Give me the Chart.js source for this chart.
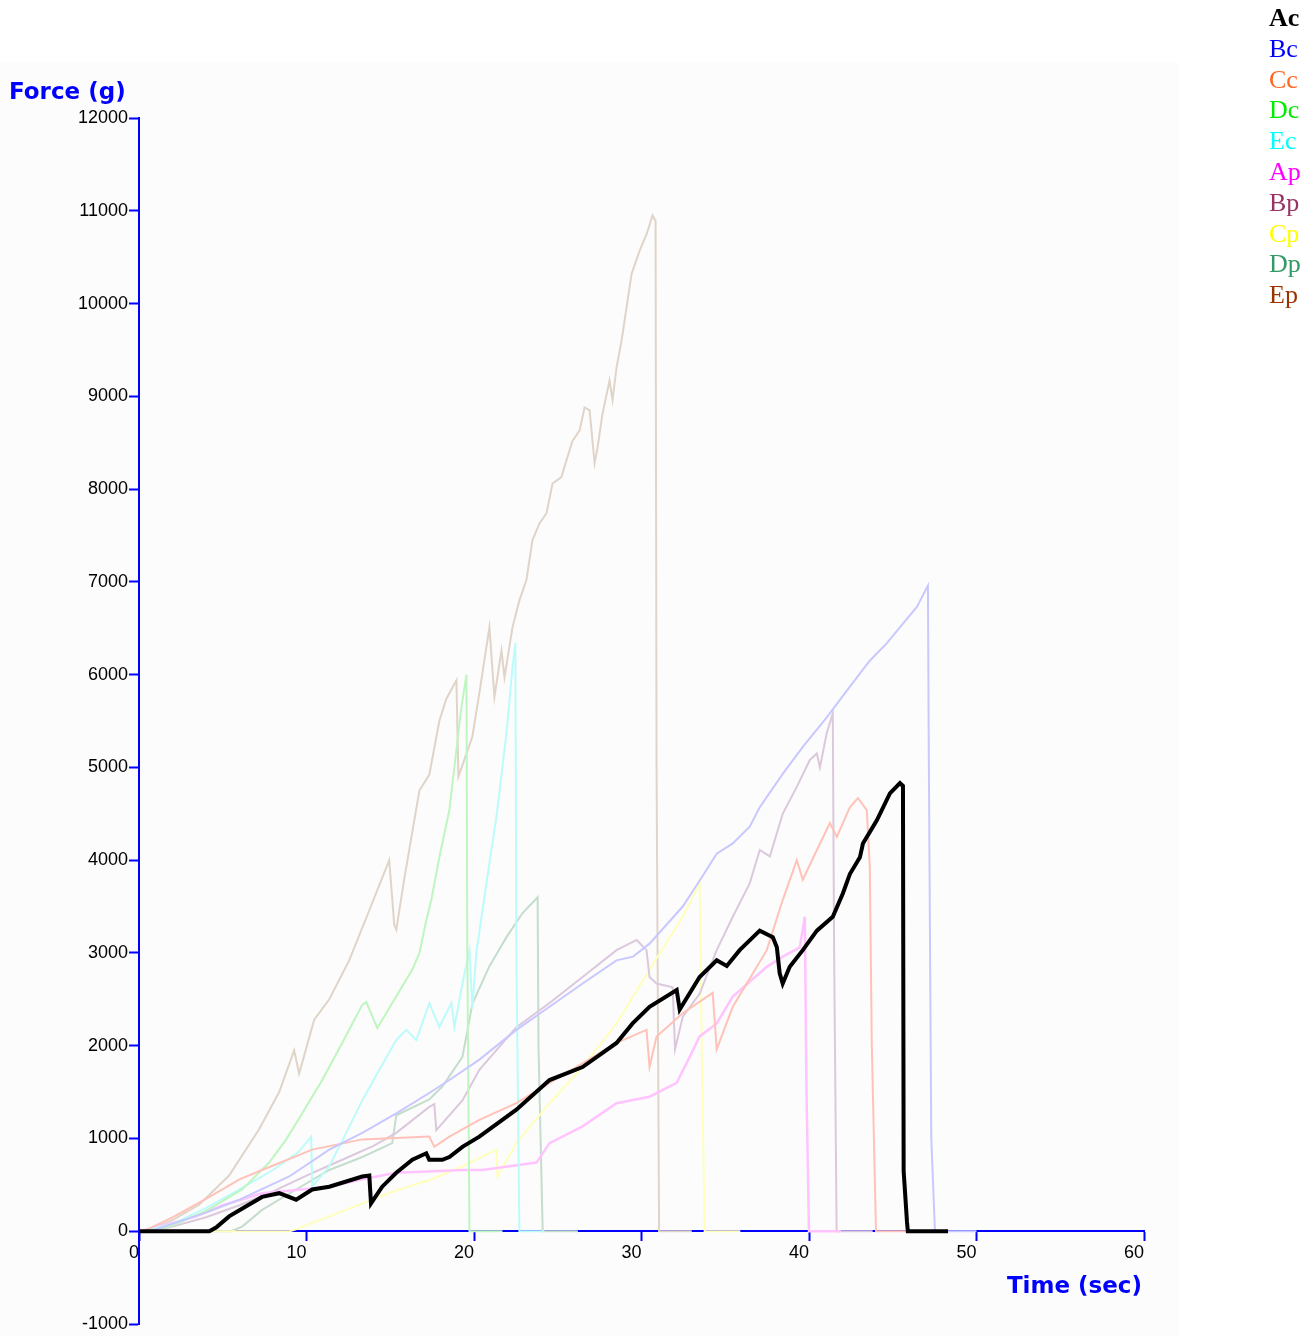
<!DOCTYPE html>
<html>
<head>
<meta charset="utf-8">
<script src="https://cdn.jsdelivr.net/npm/chart.js@4.4.1/dist/chart.umd.min.js"></script>
<style>
  html, body { margin: 0; padding: 0; background: #ffffff; }
  #wrap { position: relative; width: 1315px; height: 1336px; overflow: hidden; }
  #panel { position: absolute; left: 0; top: 62px; width: 1178px; height: 1274px; background: #fcfcfc; }
  #box { position: absolute; left: 0; top: 0; width: 1315px; height: 1336px; }
  .axisTitle { position: absolute; font-family: "DejaVu Sans", sans-serif; font-weight: bold;
               font-size: 23px; line-height: 23px; color: #0000ff; white-space: nowrap; }
  #legend { position: absolute; left: 1269px; top: 3px; font-family: "Liberation Serif", "Times New Roman", serif;
            font-size: 26px; line-height: 30.8px; }
</style>
</head>
<body>
<div id="wrap">
  <div id="panel"></div>
  <div id="box"><canvas id="forceChart"></canvas></div>
  <div class="axisTitle" style="left:9px; top:80px;">Force (g)</div>
  <div class="axisTitle" style="right:173px; top:1274px;">Time (sec)</div>
  <div id="legend"></div>
</div>
<script>
// time (sec) / force (g), one pair of arrays per sample
const acTime = [0, 4.2, 4.6, 5.38, 6.4, 7.35, 8.37, 9.38, 10.34, 11.36, 13.33, 13.75, 13.85, 14.52, 15.36, 16.32, 17.15, 17.33, 18.11, 18.53, 19.31, 20.32, 22.53, 24.51, 26.48, 28.51, 29.47, 30.48, 32.1, 32.28, 33.47, 34.49, 35.09, 35.86, 37.06, 37.84, 38.08, 38.25, 38.43, 38.85, 39.63, 40.47, 41.42, 42.02, 42.44, 43.04, 43.22, 44.05, 44.83, 45.43, 45.61, 45.65, 45.85, 45.9, 48.3];
const acForce = [0, 0, 40, 160, 270, 370, 410, 340, 450, 480, 590, 600, 300, 480, 630, 770, 840, 770, 770, 800, 910, 1020, 1310, 1630, 1770, 2030, 2240, 2420, 2600, 2390, 2740, 2920, 2860, 3030, 3240, 3170, 3060, 2780, 2670, 2850, 3030, 3240, 3390, 3640, 3850, 4030, 4180, 4430, 4720, 4830, 4800, 650, 100, 0, 0];

const bcTime = [0, 1, 2, 4, 6, 8.97, 11.36, 13.33, 15.36, 17.33, 18.53, 20.32, 22.53, 24.51, 26.48, 28.51, 29.5, 30.48, 32.46, 33.65, 34.49, 35.45, 36.46, 37.06, 38.43, 39.63, 41.06, 42.44, 43.63, 44.65, 45.61, 46.44, 47.1, 47.15, 47.3, 47.52, 50];
const bcForce = [0, 20, 80, 200, 340, 590, 880, 1060, 1270, 1490, 1630, 1850, 2170, 2420, 2670, 2920, 2960, 3100, 3500, 3830, 4070, 4180, 4360, 4570, 4930, 5220, 5540, 5870, 6150, 6340, 6550, 6730, 6960, 5200, 1000, 0, 0];

const ccTime = [0, 0.5, 2, 4, 6, 7.35, 10.34, 13.33, 17.33, 17.63, 18.53, 20.32, 22.53, 24.51, 26.48, 28.51, 30.3, 30.48, 30.9, 32.46, 34.25, 34.49, 35.45, 37.48, 38.43, 39.27, 39.63, 40.47, 41.25, 41.66, 42.44, 42.92, 43.45, 43.63, 43.75, 44.0, 45.9];
const ccForce = [0, 20, 150, 350, 560, 660, 880, 990, 1020, 910, 1020, 1200, 1380, 1600, 1810, 2030, 2170, 1770, 2100, 2350, 2570, 1960, 2420, 3030, 3570, 4000, 3790, 4110, 4400, 4250, 4570, 4670, 4540, 3930, 2000, 0, 0];

const dcTime = [0, 1, 2, 4, 6.16, 7.77, 8.79, 9.74, 10.94, 12.13, 13.33, 13.57, 14.23, 15.12, 16.32, 16.74, 17.15, 17.45, 17.93, 18.53, 18.95, 19.25, 19.55, 19.6, 19.73, 21.7];
const dcForce = [0, 10, 60, 220, 450, 740, 990, 1270, 1630, 2030, 2440, 2470, 2190, 2460, 2820, 3000, 3350, 3570, 4030, 4540, 5190, 5650, 6000, 3000, 0, 0];

const ecTime = [0, 0.5, 2, 4, 6, 8, 9.5, 10.28, 10.34, 11.36, 12.37, 13.33, 14.35, 15.36, 15.96, 16.56, 17.33, 17.93, 18.65, 18.83, 19.31, 19.73, 19.9, 20.14, 20.74, 21.34, 21.94, 22.3, 22.47, 22.53, 22.71, 24.2];
const ecForce = [0, 10, 80, 250, 450, 660, 850, 1020, 480, 700, 1060, 1410, 1740, 2060, 2170, 2060, 2460, 2200, 2460, 2200, 2670, 3030, 2400, 3000, 3750, 4470, 5370, 6080, 6340, 3000, 0, 0];

const apTime = [0, 0.5, 2, 3.41, 5, 7.35, 11.36, 13.33, 15.36, 19.31, 20.5, 23.73, 24.51, 26.48, 28.51, 30.48, 32.1, 32.88, 33.47, 34.49, 35.45, 37.48, 38.43, 39.45, 39.75, 39.85, 40.0, 41.9];
const apForce = [0, 20, 90, 160, 280, 410, 480, 560, 630, 660, 660, 740, 950, 1130, 1380, 1450, 1600, 1880, 2100, 2240, 2530, 2850, 2960, 3060, 3390, 1500, 0, 0];

const bpTime = [0, 1, 2, 4, 6, 8, 10, 12, 14, 15.36, 17.33, 17.63, 17.75, 19.31, 20.32, 22.53, 24.51, 26.48, 28.51, 29.71, 30.3, 30.48, 30.9, 31.86, 32.0, 32.46, 33.47, 34.49, 35.45, 36.46, 37.06, 37.66, 38.43, 39.27, 40.05, 40.47, 40.65, 41.06, 41.42, 41.5, 41.65, 43.8];
const bpForce = [0, 10, 50, 150, 280, 430, 600, 760, 920, 1060, 1340, 1370, 1090, 1410, 1740, 2200, 2460, 2740, 3030, 3140, 3030, 2740, 2670, 2630, 1960, 2310, 2560, 3030, 3390, 3750, 4110, 4040, 4500, 4790, 5080, 5150, 5000, 5370, 5580, 3000, 0, 0];

const cpTime = [0, 9, 9.38, 11.36, 13.33, 15.36, 17.33, 19.31, 21.34, 21.4, 22.53, 24.51, 26.48, 28.51, 30.48, 32.46, 33.47, 33.55, 33.77, 35.9];
const cpForce = [0, 0, 20, 160, 300, 440, 550, 700, 880, 590, 950, 1380, 1770, 2240, 2820, 3390, 3750, 2500, 0, 0];

const dpTime = [0, 5.5, 6.16, 7.35, 9.38, 11.36, 13.33, 15.12, 15.36, 17.33, 18.11, 19.31, 19.9, 20.9, 21.94, 22.9, 23.8, 23.85, 24.1, 26.2];
const dpForce = [0, 0, 50, 230, 450, 660, 800, 950, 1250, 1420, 1560, 1880, 2450, 2850, 3170, 3430, 3600, 2000, 0, 0];

const epTime = [0, 0.5, 2, 3.59, 5.38, 7.17, 8.37, 9.26, 9.56, 10.46, 11.36, 12.55, 13.75, 14.94, 15.24, 15.36, 15.84, 16.74, 17.33, 17.93, 18.35, 18.95, 19.07, 19.9, 20.32, 20.92, 21.22, 21.64, 21.82, 22.3, 22.71, 23.13, 23.49, 23.91, 24.33, 24.69, 25.22, 25.52, 25.88, 26.3, 26.6, 26.9, 27.2, 27.38, 27.67, 28.09, 28.27, 28.51, 28.81, 29.11, 29.41, 29.89, 30.31, 30.66, 30.84, 30.9, 31.05, 33.0];
const epForce = [0, 10, 120, 285, 600, 1100, 1500, 1950, 1700, 2280, 2500, 2920, 3460, 4000, 3300, 3250, 3800, 4750, 4920, 5500, 5740, 5940, 4900, 5330, 5800, 6510, 5760, 6260, 5970, 6510, 6800, 7020, 7450, 7630, 7740, 8060, 8130, 8310, 8520, 8630, 8880, 8850, 8280, 8450, 8810, 9170, 8960, 9310, 9600, 9960, 10320, 10570, 10750, 10950, 10890, 5000, 0, 0];

const sampleNames = ['Ac', 'Bc', 'Cc', 'Dc', 'Ec', 'Ap', 'Bp', 'Cp', 'Dp', 'Ep'];
const yTicks = [-1000, 0, 1000, 2000, 3000, 4000, 5000, 6000, 7000, 8000, 9000, 10000, 11000, 12000];
const xTicks = [0, 10, 20, 30, 40, 50, 60];

// legend colours vs. the washed-out trace colours
const legendColors = ['#000000', '#0000ff', '#ff6622', '#00ee00', '#00ffff', '#ff00ff', '#993366', '#ffff00', '#339966', '#993300'];
const lineColors = ['#000000', '#c8c8ff', '#ffc2b8', '#bff5bf', '#bdfbfb', '#ffc4ff', '#dcc8dc', '#ffffbc', '#c4ddcc', '#e0d4c8'];

const series = [
  [acTime, acForce], [bcTime, bcForce], [ccTime, ccForce], [dcTime, dcForce], [ecTime, ecForce],
  [apTime, apForce], [bpTime, bpForce], [cpTime, cpForce], [dpTime, dpForce], [epTime, epForce]
];

function toPoints(t, f) {
  const n = Math.min(t.length, f.length);
  const pts = [];
  for (let i = 0; i < n; i++) pts.push({ x: t[i], y: f[i] });
  return pts;
}

// legend on the right
const legend = document.getElementById('legend');
sampleNames.forEach((name, i) => {
  const d = document.createElement('div');
  d.textContent = name;
  d.style.color = legendColors[i];
  if (i === 0) d.style.fontWeight = 'bold';
  legend.appendChild(d);
});

const ctx = document.getElementById('forceChart').getContext('2d');

new Chart(ctx, {
  type: 'line',
  data: {
    datasets: series.map((s, i) => ({
      label: sampleNames[i],
      data: toPoints(s[0], s[1]),
      borderColor: lineColors[i],
      backgroundColor: lineColors[i],
      borderWidth: i === 0 ? 4 : (i === 5 ? 2.5 : 2),
      pointRadius: 0,
      tension: 0,
      fill: false
    }))
  },
  options: {
    responsive: true,
    maintainAspectRatio: false,
    animation: false,
    events: [],
    layout: { padding: { left: 0, top: 118, right: 171, bottom: 12 } },
    plugins: {
      legend: { display: false },
      tooltip: { enabled: false }
    },
    scales: {
      x: {
        type: 'linear',
        min: 0,
        max: 60,
        position: { y: 0 },
        afterBuildTicks: axis => { axis.ticks = xTicks.map(v => ({ value: v })); },
        ticks: {
          align: 'end',
          color: '#000000',
          padding: 2,
          font: { family: 'Liberation Sans, Arial, sans-serif', size: 18 },
          callback: v => String(v)
        },
        grid: { drawOnChartArea: false, drawTicks: true, tickLength: 9, tickColor: '#0000ff', tickWidth: 2 },
        border: { display: true, color: '#0000ff', width: 2 }
      },
      y: {
        type: 'linear',
        min: -1000,
        max: 12000,
        position: 'left',
        afterBuildTicks: axis => { axis.ticks = yTicks.map(v => ({ value: v })); },
        afterFit: axis => { axis.width = 139; },
        ticks: {
          autoSkip: false,
          color: '#000000',
          padding: 1,
          font: { family: 'Liberation Sans, Arial, sans-serif', size: 18 },
          callback: v => String(v)
        },
        grid: { drawOnChartArea: false, drawTicks: true, tickLength: 10, tickColor: '#0000ff', tickWidth: 2 },
        border: { display: true, color: '#0000ff', width: 2 }
      }
    }
  }
});
</script>
</body>
</html>
